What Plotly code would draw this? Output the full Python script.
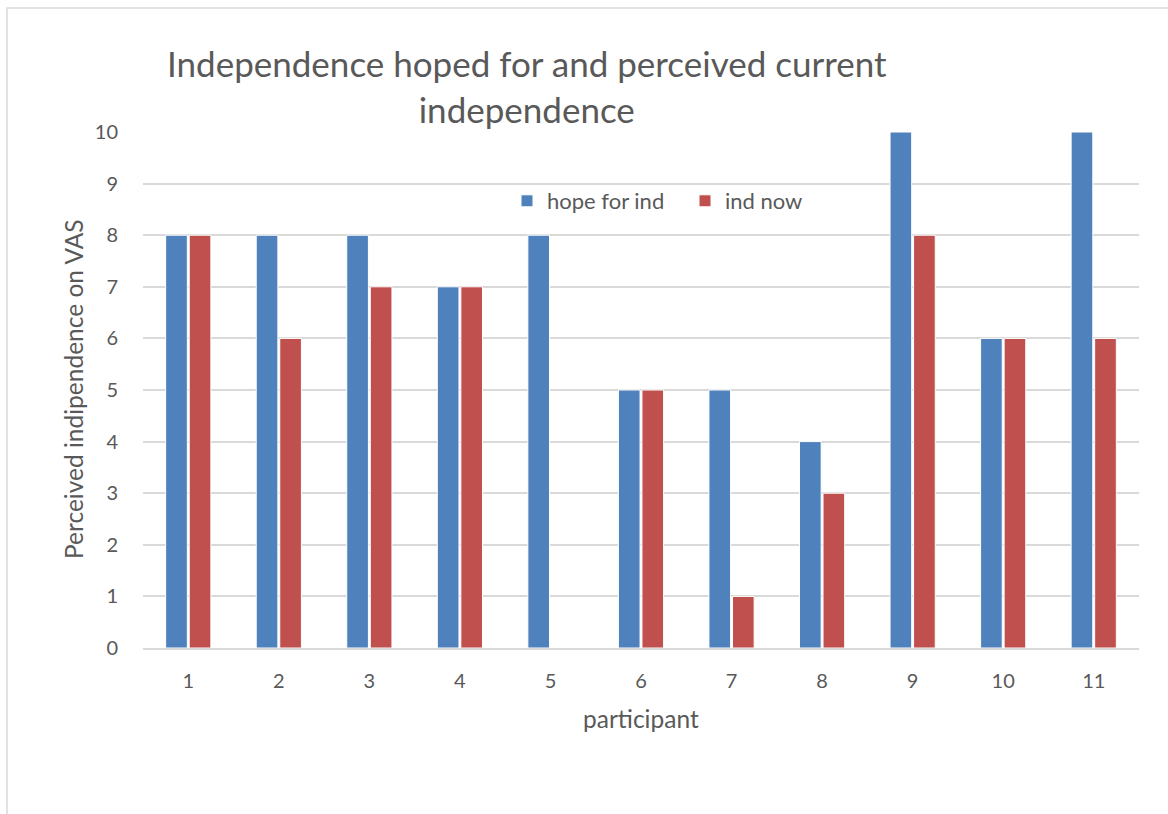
import plotly.graph_objects as go

participants = ["1", "2", "3", "4", "5", "6", "7", "8", "9", "10", "11"]
hope_for_ind = [8, 8, 8, 7, 8, 5, 5, 4, 10, 6, 10]
ind_now = [8, 6, 7, 7, 0, 5, 1, 3, 8, 6, 6]
y_ticks = [0, 1, 2, 3, 4, 5, 6, 7, 8, 9, 10]

W, H = 1168, 814
L, R, T, B = 143, 29, 132, 166
pw, ph = W - L - R, H - T - B

def px(x):
    return (x - L) / pw

def py(y):
    return (H - B - y) / ph

FONT = "Lato"
GRAY = "#595959"

fig = go.Figure()
fig.add_bar(x=participants, y=hope_for_ind, name="hope for ind",
            marker=dict(color="#4F81BD", line=dict(color="white", width=1)))
fig.add_bar(x=participants, y=ind_now, name="ind now",
            marker=dict(color="#C0504D", line=dict(color="white", width=1)))

fig.update_layout(
    width=W, height=H,
    margin=dict(l=L, r=R, t=T, b=B, autoexpand=False),
    paper_bgcolor="white", plot_bgcolor="white",
    barmode="group", bargap=0.48, bargroupgap=0.08,
    font=dict(family=FONT, color=GRAY, size=20),
    showlegend=True,
    legend=dict(orientation="h", x=px(507), y=py(201), xanchor="left", yanchor="middle",
                font=dict(size=22, color=GRAY), bgcolor="rgba(0,0,0,0)",
                itemwidth=30, traceorder="normal",
                entrywidth=133, entrywidthmode="pixels"),
    xaxis=dict(showgrid=False, showline=True, linecolor="#D9D9D9", linewidth=2,
               ticks="", ticklabelstandoff=14, tickfont=dict(size=20, color=GRAY)),
    yaxis=dict(range=[0, 10], tickvals=y_ticks, showgrid=True, gridcolor="#D9D9D9",
               gridwidth=1.5, zeroline=False, showline=False, ticks="",
               ticklabelstandoff=24, tickfont=dict(size=20, color=GRAY)),
    annotations=[
        dict(text="Independence hoped for and perceived current<br>independence",
             x=px(527), y=py(86), xref="paper", yref="paper", xanchor="center",
             yanchor="middle", showarrow=False, font=dict(size=35, color=GRAY, family=FONT)),
        dict(text="Perceived indipendence on VAS", x=px(73), y=py(389), xref="paper",
             yref="paper", textangle=-90, showarrow=False, xanchor="center", yanchor="middle",
             font=dict(size=24.5, color=GRAY, family=FONT)),
        dict(text="participant", x=px(641), y=py(718), xref="paper", yref="paper",
             showarrow=False, xanchor="center", yanchor="middle",
             font=dict(size=24.5, color=GRAY, family=FONT)),
    ],
    shapes=[
        dict(type="rect", xref="paper", yref="paper", x0=px(7), y0=py(830), x1=px(1180), y1=py(8),
             line=dict(color="#D9D9D9", width=1.5), fillcolor="rgba(0,0,0,0)", layer="below"),
    ],
)

fig.write_html("out.html")
